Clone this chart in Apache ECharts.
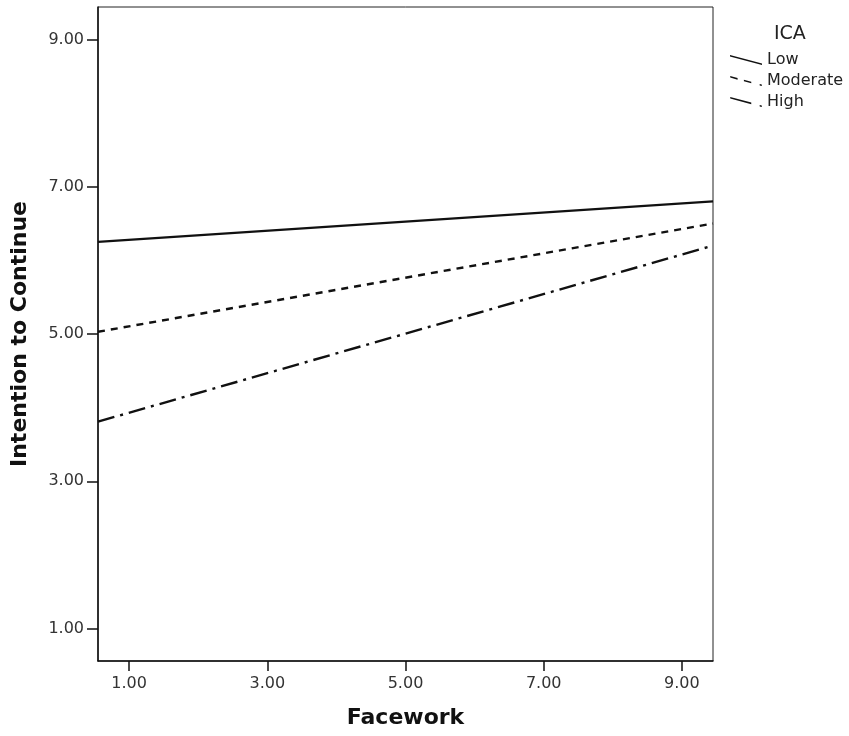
<!DOCTYPE html>
<html><head><meta charset="utf-8">
<script src="https://cdn.jsdelivr.net/npm/echarts@6/dist/echarts.min.js"></script>
<style>html,body{margin:0;padding:0;background:#fff}#c{width:849px;height:736px}</style>
</head><body><div id="c"></div>
<script>
const xEnds = [0.55, 9.45];
const seriesNames = ['Low', 'Moderate', 'High'];
const lowValues = [6.25, 6.80];
const moderateValues = [5.03, 6.50];
const highValues = [3.81, 6.20];
const tickValues = [1, 3, 5, 7, 9];

const chart = echarts.init(document.getElementById('c'));
const font = 'DejaVu Sans';
function pts(v){ return xEnds.map((x,i)=>[x, v[i]]); }
const iconLow = 'path://M0,0 L32,8.5 L32,10 L0,1.5 Z';
const iconMod = 'path://M0,0 L7,2 L7,3.5 L0,1.5 Z M13,3.5 L20,5.5 L20,7 L13,5 Z M28,7.5 L30,8 L30,9.5 L28,9 Z';
const iconHigh = 'path://M0,0 L20,5.3 L20,6.8 L0,1.5 Z M28,7.5 L30,8 L30,9.5 L28,9 Z';
chart.setOption({
  animation: false,
  backgroundColor: '#fff',
  title: { text: 'ICA', left: 769, top: 20, textStyle: { fontFamily: font, fontSize: 19, fontWeight: 'normal', color: '#222' } },
  legend: {
    orient: 'vertical', left: 730, top: 52, itemWidth: 32, itemHeight: 10, itemGap: 5, padding: 0,
    data: [
      { name: seriesNames[0], icon: iconLow },
      { name: seriesNames[1], icon: iconMod },
      { name: seriesNames[2], icon: iconHigh }
    ],
    textStyle: { fontFamily: font, fontSize: 16, lineHeight: 16, color: '#222' },
    itemStyle: { borderWidth: 0 },
    lineStyle: { width: 0 }
  },
  grid: { left: 98, right: 136, top: 7, bottom: 75, show: true, borderColor: '#222', borderWidth: 1 },
  xAxis: {
    type: 'value', min: 0.55, max: 9.45,
    name: 'Facework', nameLocation: 'middle', nameGap: 46,
    nameTextStyle: { fontFamily: font, fontSize: 22, fontWeight: 'bold', color: '#111' },
    axisLine: { show: true, lineStyle: { color: '#111', width: 1.5 } },
    axisTick: { show: true, length: 10, lineStyle: { color: '#111', width: 1.5 }, customValues: tickValues },
    axisLabel: { fontFamily: font, fontSize: 16, color: '#333', margin: 15, customValues: tickValues, formatter: v => v.toFixed(2) },
    splitLine: { show: false }
  },
  yAxis: {
    type: 'value', min: 0.56, max: 9.44,
    name: 'Intention to Continue', nameLocation: 'middle', nameGap: 67,
    nameTextStyle: { fontFamily: font, fontSize: 22, fontWeight: 'bold', color: '#111' },
    axisLine: { show: true, lineStyle: { color: '#111', width: 1.5 } },
    axisTick: { show: true, length: 11, lineStyle: { color: '#111', width: 1.5 }, customValues: tickValues },
    axisLabel: { fontFamily: font, fontSize: 16, color: '#333', margin: 14, customValues: tickValues, formatter: v => v.toFixed(2) },
    splitLine: { show: false }
  },
  series: [
    { name: seriesNames[0], type: 'line', data: pts(lowValues), showSymbol: false, symbol: 'none', color: '#111',
      lineStyle: { color: '#111', width: 2.2, type: 'solid' } },
    { name: seriesNames[1], type: 'line', data: pts(moderateValues), showSymbol: false, symbol: 'none', color: '#111',
      lineStyle: { color: '#111', width: 2.4, type: [7, 6] } },
    { name: seriesNames[2], type: 'line', data: pts(highValues), showSymbol: false, symbol: 'none', color: '#111',
      lineStyle: { color: '#111', width: 2.4, type: [17, 6, 3, 6] } }
  ]
});
</script></body></html>
